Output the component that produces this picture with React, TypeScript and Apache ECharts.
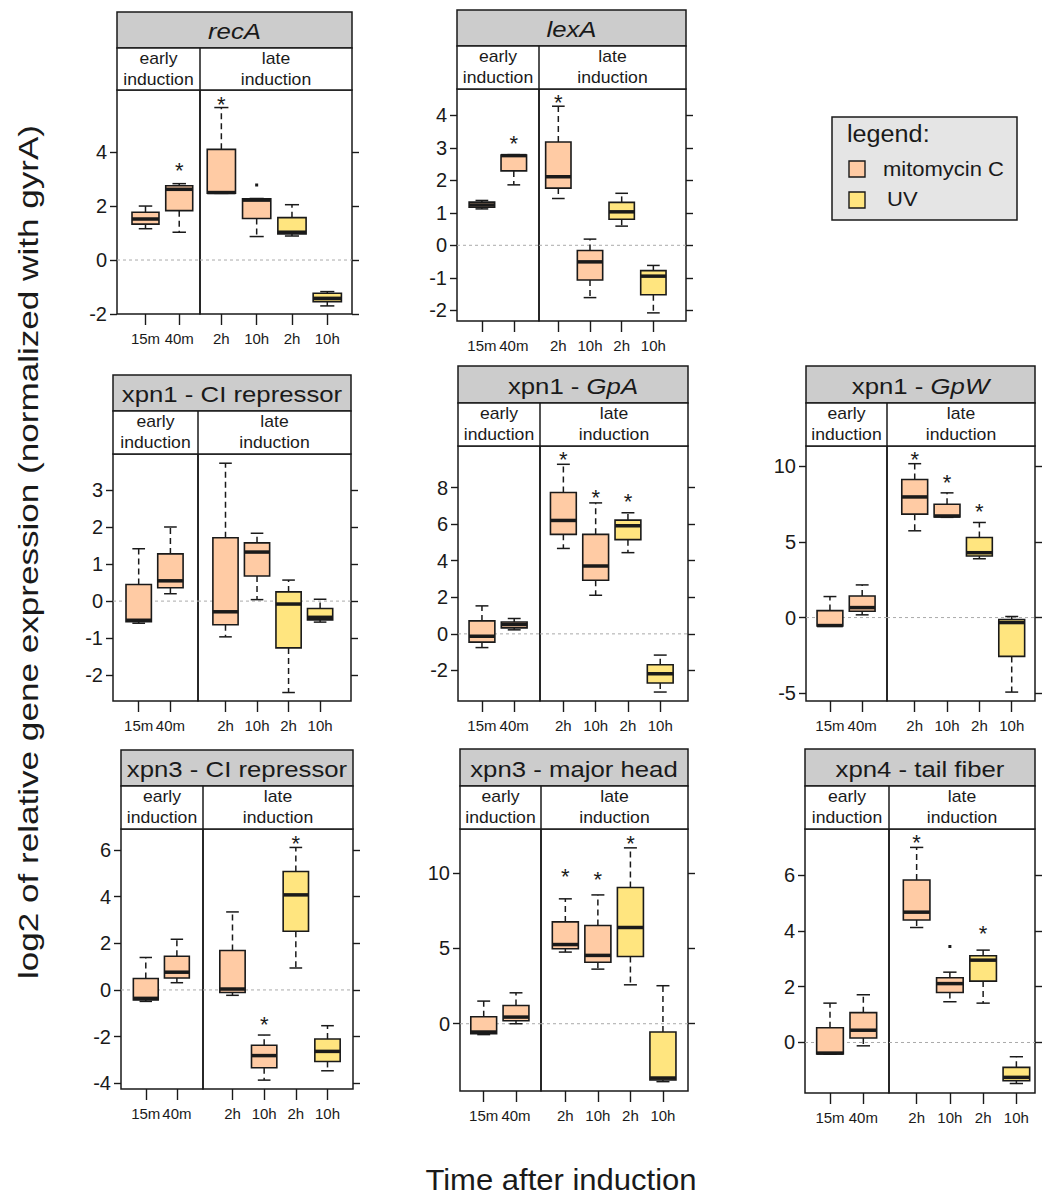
import React, { useEffect, useRef } from "react";
import * as echarts from "echarts";

// ---------- data ----------
const categories = ["15m", "40m", "2h", "10h", "2h", "10h"];
// M = mitomycin C, U = UV
const treatment = ["M", "M", "M", "M", "U", "U"];

const titles = [
  "{i|recA}",
  "{i|lexA}",
  "xpn1 - CI repressor",
  "xpn1 - {i|GpA}",
  "xpn1 - {i|GpW}",
  "xpn3 - CI repressor",
  "xpn3 - major head",
  "xpn4 - tail fiber",
];

// each box: [min, q1, median, q3, max]
const recA = [
  [1.16, 1.33, 1.52, 1.77, 2.0],
  [1.03, 1.83, 2.62, 2.75, 2.83],
  [2.47, 2.48, 2.5, 4.1, 5.65],
  [0.87, 1.54, 2.22, 2.27, 2.28],
  [0.89, 0.97, 1.03, 1.57, 2.05],
  [-1.7, -1.54, -1.42, -1.23, -1.17],
];
const recASig = [null, 3.52, 5.96, null, null, null];
const recAOut = [null, null, null, 2.78, null, null];
const recATicks = [-2, 0, 2, 4];

const lexA = [
  [1.12, 1.17, 1.24, 1.33, 1.38],
  [1.86, 2.29, 2.76, 2.78, 2.79],
  [1.44, 1.76, 2.11, 3.18, 4.28],
  [-1.61, -1.07, -0.51, -0.16, 0.19],
  [0.59, 0.8, 1.03, 1.32, 1.6],
  [-2.08, -1.52, -0.95, -0.78, -0.62],
];
const lexASig = [null, 3.3, 4.56, null, null, null];
const lexAOut = [null, null, null, null, null, null];
const lexATicks = [-2, -1, 0, 1, 2, 3, 4];

const xpn1CI = [
  [-0.6, -0.56, -0.52, 0.45, 1.42],
  [0.2, 0.36, 0.55, 1.28, 2.01],
  [-0.97, -0.64, -0.29, 1.72, 3.74],
  [0.04, 0.68, 1.33, 1.58, 1.84],
  [-2.48, -1.27, -0.08, 0.25, 0.57],
  [-0.57, -0.51, -0.44, -0.2, 0.05],
];
const xpn1CISig = [null, null, null, null, null, null];
const xpn1CIOut = [null, null, null, null, null, null];
const xpn1CITicks = [-2, -1, 0, 1, 2, 3];

const xpn1GpA = [
  [-0.75, -0.45, -0.13, 0.71, 1.53],
  [0.22, 0.33, 0.51, 0.65, 0.84],
  [4.67, 5.44, 6.2, 7.73, 9.27],
  [2.11, 2.93, 3.71, 5.44, 7.16],
  [4.44, 5.15, 5.91, 6.22, 6.62],
  [-3.18, -2.69, -2.18, -1.69, -1.16],
];
const xpn1GpASig = [null, null, 9.82, 7.71, 7.49, null];
const xpn1GpAOut = [null, null, null, null, null, null];
const xpn1GpATicks = [-2, 0, 2, 4, 6, 8];

const xpn1GpW = [
  [-0.56, -0.55, -0.53, 0.46, 1.39],
  [0.18, 0.42, 0.66, 1.43, 2.16],
  [5.74, 6.84, 7.98, 9.13, 10.18],
  [6.63, 6.66, 6.72, 7.5, 8.25],
  [3.89, 4.07, 4.29, 5.3, 6.29],
  [-4.93, -2.57, -0.33, -0.13, 0.07],
];
const xpn1GpWSig = [null, null, 10.8, 9.27, 7.33, null];
const xpn1GpWOut = [null, null, null, null, null, null];
const xpn1GpWTicks = [-5, 0, 5, 10];

const xpn3CI = [
  [-0.49, -0.43, -0.36, 0.49, 1.39],
  [0.31, 0.51, 0.76, 1.44, 2.17],
  [-0.23, -0.11, 0.04, 1.69, 3.34],
  [-3.86, -3.33, -2.81, -2.37, -1.93],
  [0.94, 2.51, 4.07, 5.07, 6.1],
  [-3.46, -3.06, -2.63, -2.1, -1.53],
];
const xpn3CISig = [null, null, null, -1.26, 6.49, null];
const xpn3CIOut = [null, null, null, null, null, null];
const xpn3CITicks = [-4, -2, 0, 2, 4, 6];

const xpn3Head = [
  [-0.72, -0.66, -0.55, 0.46, 1.5],
  [0.0, 0.2, 0.44, 1.21, 2.05],
  [4.75, 4.97, 5.25, 6.75, 8.28],
  [3.62, 4.08, 4.53, 6.51, 8.54],
  [2.58, 4.46, 6.38, 9.03, 11.66],
  [-3.84, -3.73, -3.6, -0.55, 2.52],
];
const xpn3HeadSig = [null, null, 10.07, 9.91, 12.3, null];
const xpn3HeadOut = [null, null, null, null, null, null];
const xpn3HeadTicks = [0, 5, 10];

const xpn4Tail = [
  [-0.42, -0.41, -0.38, 0.53, 1.41],
  [-0.12, 0.16, 0.44, 1.07, 1.71],
  [4.12, 4.39, 4.67, 5.82, 6.99],
  [1.46, 1.79, 2.11, 2.32, 2.52],
  [1.41, 2.2, 2.95, 3.11, 3.31],
  [-1.47, -1.37, -1.25, -0.89, -0.51],
];
const xpn4TailSig = [null, null, 7.33, null, 4.09, null];
const xpn4TailOut = [null, null, null, 3.44, null, null];
const xpn4TailTicks = [0, 2, 4, 6];

// ---------- layout (pixels / axis ranges) ----------
const FONT = "'Liberation Sans', Arial, Helvetica, sans-serif";
const INK = "#1a1a1a";
const FILL = { M: "#FFCBA4", U: "#FFE57F" };

// frame: [left, separator, right, titleTop, headerTop, plotTop, plotBottom]
const layouts = [
  { frame: [117, 200, 352, 12, 48, 90, 314], xE: [0.155, 2.616], xL: [0.395, 4.7], y: [-2, 6.3] },
  { frame: [457, 539, 686, 10, 46, 89, 321], xE: [0.22, 2.79], xL: [0.39, 5.03], y: [-2.33, 4.81] },
  { frame: [113, 198, 351, 375, 411, 454, 701], xE: [0.19, 2.87], xL: [0.128, 4.98], y: [-2.71, 3.99] },
  { frame: [458, 540, 688, 366, 403, 446, 701], xE: [0.257, 2.8], xL: [0.276, 4.86], y: [-3.67, 10.27] },
  { frame: [806, 887, 1035, 366, 403, 446, 701], xE: [0.257, 2.77], xL: [0.143, 4.72], y: [-5.52, 11.35] },
  { frame: [121, 203, 353, 750, 786, 829, 1089], xE: [0.203, 2.84], xL: [0.069, 4.805], y: [-4.24, 6.89] },
  { frame: [460, 541, 688, 749, 786, 829, 1091], xE: [0.266, 2.774], xL: [0.252, 4.77], y: [-4.46, 12.91] },
  { frame: [805, 889, 1035, 749, 786, 829, 1093], xE: [0.25, 2.77], xL: [0.169, 4.56], y: [-1.81, 7.65] },
];

const panelData = [
  { stats: recA, sig: recASig, out: recAOut, ticks: recATicks },
  { stats: lexA, sig: lexASig, out: lexAOut, ticks: lexATicks },
  { stats: xpn1CI, sig: xpn1CISig, out: xpn1CIOut, ticks: xpn1CITicks },
  { stats: xpn1GpA, sig: xpn1GpASig, out: xpn1GpAOut, ticks: xpn1GpATicks },
  { stats: xpn1GpW, sig: xpn1GpWSig, out: xpn1GpWOut, ticks: xpn1GpWTicks },
  { stats: xpn3CI, sig: xpn3CISig, out: xpn3CIOut, ticks: xpn3CITicks },
  { stats: xpn3Head, sig: xpn3HeadSig, out: xpn3HeadOut, ticks: xpn3HeadTicks },
  { stats: xpn4Tail, sig: xpn4TailSig, out: xpn4TailOut, ticks: xpn4TailTicks },
];

function makeRender(pd: any, idx: number[]) {
  return (params: any, api: any) => {
    const k = idx[params.dataIndex];
    const xv = api.value(0);
    const unit = api.size([1, 0])[0];
    const bw = unit * 0.8;
    const cw = bw * 0.5;
    const P = (v: number) => api.coord([xv, v]);
    const [cx, yMin] = P(api.value(1));
    const yQ1 = P(api.value(2))[1];
    const yMed = P(api.value(3))[1];
    const yQ3 = P(api.value(4))[1];
    const yMax = P(api.value(5))[1];
    const dash = { stroke: INK, lineWidth: 1.5, lineDash: [6, 4] };
    const solid = { stroke: INK, lineWidth: 1.5 };
    const children: any[] = [
      { type: "line", shape: { x1: cx, y1: yQ3, x2: cx, y2: yMax }, style: dash },
      { type: "line", shape: { x1: cx, y1: yQ1, x2: cx, y2: yMin }, style: dash },
      { type: "line", shape: { x1: cx - cw / 2, y1: yMax, x2: cx + cw / 2, y2: yMax }, style: solid },
      { type: "line", shape: { x1: cx - cw / 2, y1: yMin, x2: cx + cw / 2, y2: yMin }, style: solid },
      {
        type: "rect",
        shape: { x: cx - bw / 2, y: yQ3, width: bw, height: yQ1 - yQ3 },
        style: { fill: FILL[treatment[k] as "M" | "U"], stroke: INK, lineWidth: 1.6 },
      },
      { type: "line", shape: { x1: cx - bw / 2, y1: yMed, x2: cx + bw / 2, y2: yMed }, style: { stroke: INK, lineWidth: 3.5 } },
    ];
    const s = pd.sig[k];
    if (s !== null && s !== undefined) {
      const pt = P(s);
      children.push({
        type: "text",
        style: {
          text: "*", x: pt[0], y: pt[1] + 5, fontSize: 22, fontFamily: FONT, fill: INK, fontWeight: "normal",
          align: "center", verticalAlign: "middle", textAlign: "center", textVerticalAlign: "middle",
        },
      });
    }
    const o = pd.out[k];
    if (o !== null && o !== undefined) {
      const pt = P(o);
      children.push({ type: "rect", shape: { x: pt[0] - 1.5, y: pt[1] - 1.5, width: 3, height: 3 }, style: { fill: INK } });
    }
    return { type: "group", children };
  };
}

function txt(x: number, y: number, text: string, fontSize: number, opts: any = {}) {
  return {
    type: "text",
    x,
    y,
    rotation: opts.rotation || 0,
    scaleX: opts.scaleX || 1,
    z: 10,
    style: {
      text,
      fontSize,
      fontFamily: FONT,
      fontWeight: "normal",
      fontStyle: opts.italic ? "italic" : "normal",
      fill: INK,
      lineHeight: opts.lineHeight,
      align: opts.align || "center",
      textAlign: opts.align || "center",
      verticalAlign: "middle",
      textVerticalAlign: "middle",
      rich: opts.rich,
    },
  };
}

function buildOption() {
  const grid: any[] = [];
  const xAxis: any[] = [];
  const yAxis: any[] = [];
  const series: any[] = [];
  const graphic: any[] = [];

  layouts.forEach((Lyt, pi) => {
    const pd = panelData[pi];
    const [L, S, R, tT, hT, pT, pB] = Lyt.frame;
    const parts = [
      { left: L, right: S, xr: Lyt.xE, idx: [0, 1] },
      { left: S, right: R, xr: Lyt.xL, idx: [2, 3, 4, 5] },
    ];
    parts.forEach((part, k) => {
      const gi = grid.length;
      grid.push({
        left: part.left, top: pT, width: part.right - part.left, height: pB - pT,
        show: true, borderColor: INK, borderWidth: 1.5, backgroundColor: "transparent",
      });
      const xs = part.idx.map((_, j) => j + 1);
      xAxis.push({
        type: "value", gridIndex: gi, min: part.xr[0], max: part.xr[1], position: "bottom",
        axisLine: { show: false, onZero: false }, splitLine: { show: false },
        axisTick: { show: true, customValues: xs, length: 11, lineStyle: { color: INK, width: 1.4 } },
        axisLabel: {
          customValues: xs,
          showMinLabel: true,
          showMaxLabel: true,
          hideOverlap: false,
          formatter: (v: number) => categories[part.idx[Math.round(v) - 1]],
          fontSize: 15, color: INK, margin: 17, fontFamily: FONT,
        },
      });
      yAxis.push({
        type: "value", gridIndex: gi, position: k === 0 ? "left" : "right",
        min: Lyt.y[0], max: Lyt.y[1],
        axisLine: { show: false, onZero: false }, splitLine: { show: false },
        axisTick: { show: true, customValues: pd.ticks, length: 7, lineStyle: { color: INK, width: 1.4 } },
        axisLabel: {
          show: k === 0, customValues: pd.ticks, showMinLabel: true, showMaxLabel: true, hideOverlap: false,
          fontSize: 20, color: INK, margin: 10, fontFamily: FONT,
        },
      });
      series.push({
        type: "line", xAxisIndex: gi, yAxisIndex: gi, z: 1, silent: true, symbol: "none",
        data: [[part.xr[0], 0], [part.xr[1], 0]],
        lineStyle: { color: "#aaaaaa", width: 1, type: [3, 3] },
      });
      series.push({
        type: "custom", xAxisIndex: gi, yAxisIndex: gi, z: 3, clip: false,
        data: part.idx.map((b, j) => [j + 1, ...pd.stats[b]]),
        encode: { x: 0, y: [1, 2, 3, 4, 5] },
        renderItem: makeRender(pd, part.idx),
      });
    });

    // title strip
    graphic.push({
      type: "rect", z: 5, shape: { x: L, y: tT, width: R - L, height: hT - tT },
      style: { fill: "#cccccc", stroke: INK, lineWidth: 1.5 },
    });
    graphic.push(
      txt((L + R) / 2, (tT + hT) / 2 + 1, titles[pi], 23, {
        scaleX: 1.12,
        rich: { i: { fontStyle: "italic", fontWeight: "normal", fontSize: 23, fontFamily: FONT, fill: INK } },
      })
    );
    // condition strip
    graphic.push({
      type: "rect", z: 5, shape: { x: L, y: hT, width: R - L, height: pT - hT },
      style: { fill: "#ffffff", stroke: INK, lineWidth: 1.5 },
    });
    graphic.push({ type: "line", z: 6, shape: { x1: S, y1: hT, x2: S, y2: pT }, style: { stroke: INK, lineWidth: 1.5 } });
    graphic.push(txt((L + S) / 2, (hT + pT) / 2, "early\ninduction", 16, { scaleX: 1.1, lineHeight: 21 }));
    graphic.push(txt((S + R) / 2, (hT + pT) / 2, "late\ninduction", 16, { scaleX: 1.1, lineHeight: 21 }));
  });

  // legend
  graphic.push({
    type: "rect", z: 5, shape: { x: 832, y: 117, width: 185, height: 103 },
    style: { fill: "#e5e5e5", stroke: INK, lineWidth: 1.5 },
  });
  graphic.push(txt(847, 134, "legend:", 24, { align: "left", scaleX: 1.05 }));
  graphic.push({ type: "rect", z: 10, shape: { x: 849, y: 161, width: 16, height: 16 }, style: { fill: FILL.M, stroke: INK, lineWidth: 1.4 } });
  graphic.push({ type: "rect", z: 10, shape: { x: 849, y: 192, width: 16, height: 16 }, style: { fill: FILL.U, stroke: INK, lineWidth: 1.4 } });
  graphic.push(txt(883, 169, "mitomycin C", 20, { align: "left", scaleX: 1.1 }));
  graphic.push(txt(887, 199, "UV", 20, { align: "left", scaleX: 1.1 }));

  // axis titles
  graphic.push(
    txt(29, 552, "log2 of relative gene expression (normalized with gyrA)", 27, { rotation: Math.PI / 2, scaleX: 1.3 })
  );
  graphic.push(txt(561, 1180, "Time after induction", 29, { scaleX: 1.07 }));

  return {
    animation: false,
    backgroundColor: "#ffffff",
    grid,
    xAxis,
    yAxis,
    series,
    graphic,
  };
}

export default function App() {
  const ref = useRef<HTMLDivElement>(null);
  useEffect(() => {
    const chart = echarts.init(ref.current as HTMLDivElement, undefined, { renderer: "svg" });
    chart.setOption(buildOption() as any);
    return () => chart.dispose();
  }, []);
  return <div ref={ref} style={{ position: "absolute", left: 0, top: 0, width: 1047, height: 1195 }} />;
}
